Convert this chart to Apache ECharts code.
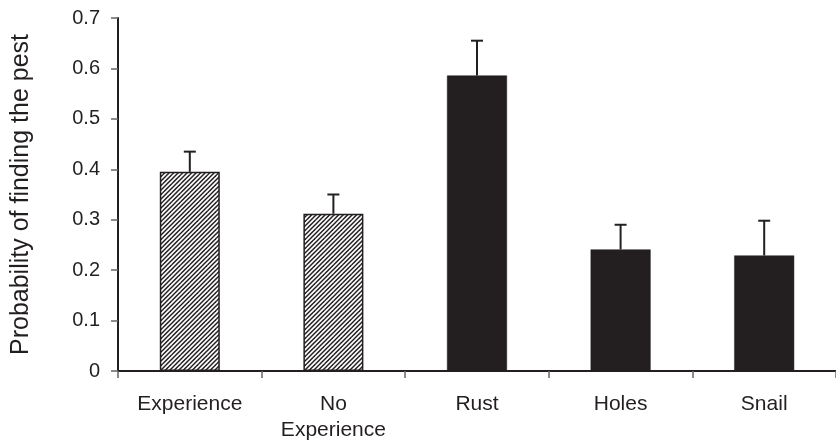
<!DOCTYPE html>
<html>
<head>
<meta charset="utf-8">
<script src="https://cdn.jsdelivr.net/npm/echarts@6/dist/echarts.min.js"></script>
<style>
html,body{margin:0;padding:0;background:#fff;}
#chart{width:836px;height:443px;}
</style>
</head>
<body>
<div id="chart"></div>
<script>
// ---- data ----
const categories = ['Experience', 'No\nExperience', 'Rust', 'Holes', 'Snail'];
const means = [0.395, 0.312, 0.586, 0.241, 0.229];
const errors = [0.040, 0.038, 0.069, 0.049, 0.069];
const hatched = [true, true, false, false, false];
const yTicks = [0, 0.1, 0.2, 0.3, 0.4, 0.5, 0.6, 0.7];

const INK = '#231f20';

// hatch pattern "/"
function makeHatch() {
  const s = 9;
  const c = document.createElement('canvas');
  c.width = s; c.height = s;
  const g = c.getContext('2d');
  g.fillStyle = '#fff';
  g.fillRect(0, 0, s, s);
  g.strokeStyle = INK;
  g.lineWidth = 1.5;
  for (let k = -2; k <= 4; k++) {
    const off = k * 4.5;
    g.beginPath();
    g.moveTo(off - 1, s + 1);
    g.lineTo(off + s + 1, -1);
    g.stroke();
  }
  return c;
}
const hatchPattern = { image: makeHatch(), repeat: 'repeat' };

const barData = means.map((v, i) => ({
  value: v,
  itemStyle: hatched[i]
    ? { color: hatchPattern, borderColor: INK, borderWidth: 1.5 }
    : { color: INK, borderColor: INK, borderWidth: 0.5 }
}));

const errData = means.map((v, i) => [i, v, v + errors[i]]);

const chart = echarts.init(document.getElementById('chart'), null, { renderer: 'canvas' });
chart.setOption({
  animation: false,
  backgroundColor: '#fff',
  grid: { left: 118, right: -12, top: 18, bottom: 70, containLabel: false },
  xAxis: {
    type: 'category',
    data: categories,
    boundaryGap: true,
    axisLine: { lineStyle: { color: INK, width: 2 } },
    axisTick: { show: true, length: 7, lineStyle: { color: '#666', width: 1.5 } },
    axisLabel: {
      interval: 0,
      margin: 20,
      color: '#231f20',
      fontFamily: 'Liberation Sans, Arial, sans-serif',
      fontSize: 21,
      lineHeight: 26
    },
    splitLine: { show: false }
  },
  yAxis: {
    type: 'value',
    min: 0,
    max: 0.7,
    interval: 0.1,
    name: 'Probability of finding the pest',
    nameLocation: 'middle',
    nameGap: 84,
    nameTextStyle: {
      color: '#231f20',
      fontFamily: 'Liberation Sans, Arial, sans-serif',
      fontSize: 25
    },
    axisLine: { show: true, lineStyle: { color: INK, width: 2 } },
    axisTick: { show: true, length: 7, lineStyle: { color: '#666', width: 1.5 } },
    axisLabel: {
      margin: 18,
      color: '#231f20',
      fontFamily: 'Liberation Sans, Arial, sans-serif',
      fontSize: 20,
      formatter: function (v) {
        const t = yTicks.find(x => Math.abs(x - v) < 1e-9);
        return t === undefined ? '' : String(t);
      }
    },
    splitLine: { show: false }
  },
  series: [
    {
      type: 'bar',
      data: barData,
      barWidth: 60,
      z: 2
    },
    {
      type: 'custom',
      z: 3,
      data: errData,
      encode: { x: 0, y: [1, 2] },
      renderItem: function (params, api) {
        const i = api.value(0);
        const lo = api.coord([i, api.value(1)]);
        const hi = api.coord([i, api.value(2)]);
        const half = 6;
        const style = { stroke: INK, lineWidth: 2 };
        return {
          type: 'group',
          children: [
            { type: 'line', shape: { x1: lo[0], y1: lo[1], x2: hi[0], y2: hi[1] }, style: style },
            { type: 'line', shape: { x1: hi[0] - half, y1: hi[1], x2: hi[0] + half, y2: hi[1] }, style: style }
          ]
        };
      }
    }
  ]
});
</script>
</body>
</html>
